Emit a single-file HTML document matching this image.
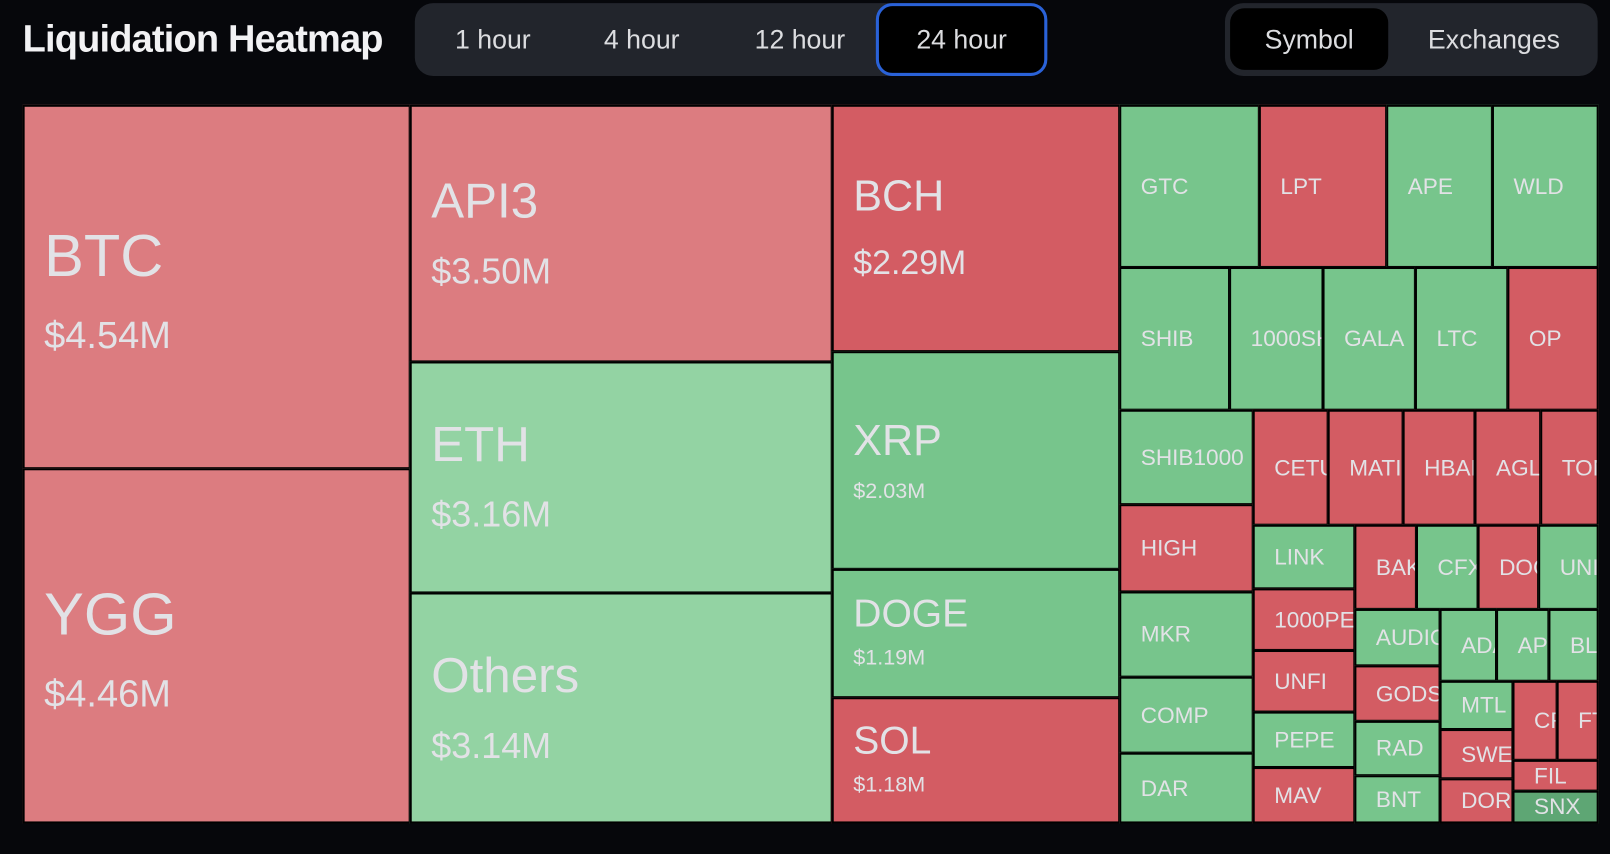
<!DOCTYPE html>
<html><head><meta charset="utf-8"><style>
html,body{margin:0;padding:0;background:#06070b;width:1610px;height:854px;overflow:hidden}
#w{position:absolute;left:0;top:0;width:1568px;height:832px;transform:scale(1.02679);transform-origin:0 0;font-family:"Liberation Sans",sans-serif}
.t{position:absolute;left:22px;top:17px;font-size:37px;font-weight:bold;color:#f2f2f4;letter-spacing:-0.8px}
.g{position:absolute;background:#22252c;border-radius:18px}
.b{position:absolute;color:#dcdde0;font-size:26px;text-align:center;line-height:60px}
.a{background:#000;border-radius:14px}
.c{position:absolute;box-sizing:border-box;border:2px solid #000;display:flex;flex-direction:column;justify-content:center;padding-left:19px;white-space:nowrap;overflow:hidden;color:#e2e2e6;font-size:22px}
.r{background:#d35c63}.gr{background:#77c58c}.lr{background:#dc7c80}.lg{background:#93d3a3}
.c span{display:block}
</style></head><body><div id="w">
<div class="t">Liquidation Heatmap</div>
<div class="g" style="left:404px;top:3px;width:616px;height:71px"></div>
<div class="b" style="left:420px;top:8px;width:120px">1 hour</div>
<div class="b" style="left:565px;top:8px;width:120px">4 hour</div>
<div class="b" style="left:715px;top:8px;width:128px">12 hour</div>
<div class="b a" style="left:853px;top:3px;width:161px;height:65px;border:3px solid #2a62d8;line-height:65px;border-radius:16px">24 hour</div>
<div class="g" style="left:1193px;top:3px;width:363px;height:71px"></div>
<div class="b a" style="left:1198px;top:8px;width:154px">Symbol</div>
<div class="b" style="left:1370px;top:8px;width:170px">Exchanges</div>

<div class="c lr" style="left:22px;top:102px;width:378px;height:355px;padding-top:14px"><span style="font-size:58px;line-height:80px">BTC</span><span style="font-size:37px;line-height:74px">$4.54M</span></div>
<div class="c lr" style="left:22px;top:456px;width:378px;height:346px;padding-top:14px"><span style="font-size:58px;line-height:80px">YGG</span><span style="font-size:37px;line-height:74px">$4.46M</span></div>
<div class="c lr" style="left:399px;top:102px;width:412px;height:251px;padding-top:8px"><span style="font-size:48px;line-height:66px">API3</span><span style="font-size:35px;line-height:70px">$3.50M</span></div>
<div class="c lg" style="left:399px;top:352px;width:412px;height:226px;padding-top:8px"><span style="font-size:48px;line-height:66px">ETH</span><span style="font-size:35px;line-height:70px">$3.16M</span></div>
<div class="c lg" style="left:399px;top:577px;width:412px;height:225px;padding-top:8px"><span style="font-size:48px;line-height:66px">Others</span><span style="font-size:35px;line-height:70px">$3.14M</span></div>
<div class="c r" style="left:810px;top:102px;width:281px;height:241px;padding-top:6px"><span style="font-size:42px;line-height:60px">BCH</span><span style="font-size:33px;line-height:70px">$2.29M</span></div>
<div class="c gr" style="left:810px;top:342px;width:281px;height:213px;padding-top:4px"><span style="font-size:42px;line-height:56px">XRP</span><span style="font-size:21px;line-height:44px">$2.03M</span></div>
<div class="c gr" style="left:810px;top:554px;width:281px;height:126px"><span style="font-size:38px;line-height:48px">DOGE</span><span style="font-size:21px;line-height:38px">$1.19M</span></div>
<div class="c r" style="left:810px;top:679px;width:281px;height:123px"><span style="font-size:38px;line-height:48px">SOL</span><span style="font-size:21px;line-height:38px">$1.18M</span></div>

<div class="c gr" style="left:1090px;top:102px;width:137px;height:159px">GTC</div>
<div class="c r" style="left:1226px;top:102px;width:125px;height:159px">LPT</div>
<div class="c gr" style="left:1350px;top:102px;width:104px;height:159px">APE</div>
<div class="c gr" style="left:1453px;top:102px;width:104px;height:159px">WLD</div>
<div class="c gr" style="left:1090px;top:260px;width:108px;height:140px">SHIB</div>
<div class="c gr" style="left:1197px;top:260px;width:92px;height:140px">1000SHIB</div>
<div class="c gr" style="left:1288px;top:260px;width:91px;height:140px">GALA</div>
<div class="c gr" style="left:1378px;top:260px;width:91px;height:140px">LTC</div>
<div class="c r" style="left:1468px;top:260px;width:89px;height:140px">OP</div>
<div class="c gr" style="left:1090px;top:399px;width:131px;height:93px">SHIB1000</div>
<div class="c r" style="left:1090px;top:491px;width:131px;height:86px">HIGH</div>
<div class="c gr" style="left:1090px;top:576px;width:131px;height:84px">MKR</div>
<div class="c gr" style="left:1090px;top:659px;width:131px;height:75px">COMP</div>
<div class="c gr" style="left:1090px;top:733px;width:131px;height:69px">DAR</div>
<div class="c r" style="left:1220px;top:399px;width:74px;height:113px">CETUS</div>
<div class="c r" style="left:1293px;top:399px;width:74px;height:113px">MATIC</div>
<div class="c r" style="left:1366px;top:399px;width:71px;height:113px">HBAR</div>
<div class="c r" style="left:1436px;top:399px;width:65px;height:113px">AGLD</div>
<div class="c r" style="left:1500px;top:399px;width:57px;height:113px">TON</div>
<div class="c gr" style="left:1220px;top:511px;width:100px;height:63px">LINK</div>
<div class="c r" style="left:1220px;top:573px;width:100px;height:61px">1000PEPE</div>
<div class="c r" style="left:1220px;top:633px;width:100px;height:61px">UNFI</div>
<div class="c gr" style="left:1220px;top:693px;width:100px;height:55px">PEPE</div>
<div class="c r" style="left:1220px;top:747px;width:100px;height:55px">MAV</div>
<div class="c r" style="left:1319px;top:511px;width:61px;height:83px">BAKE</div>
<div class="c gr" style="left:1379px;top:511px;width:61px;height:83px">CFX</div>
<div class="c r" style="left:1439px;top:511px;width:60px;height:83px">DOGS</div>
<div class="c gr" style="left:1498px;top:511px;width:59px;height:83px">UNI</div>
<div class="c gr" style="left:1319px;top:593px;width:84px;height:56px">AUDIO</div>
<div class="c r" style="left:1319px;top:648px;width:84px;height:55px">GODS</div>
<div class="c gr" style="left:1319px;top:702px;width:84px;height:54px">RAD</div>
<div class="c gr" style="left:1319px;top:755px;width:84px;height:47px">BNT</div>
<div class="c gr" style="left:1402px;top:593px;width:56px;height:71px">ADA</div>
<div class="c gr" style="left:1457px;top:593px;width:52px;height:71px">APT</div>
<div class="c gr" style="left:1508px;top:593px;width:49px;height:71px">BLUR</div>
<div class="c gr" style="left:1402px;top:663px;width:72px;height:48px">MTL</div>
<div class="c r" style="left:1402px;top:710px;width:72px;height:49px">SWEAT</div>
<div class="c r" style="left:1402px;top:758px;width:72px;height:44px">DORA</div>
<div class="c r" style="left:1473px;top:663px;width:44px;height:78px">CRV</div>
<div class="c r" style="left:1516px;top:663px;width:41px;height:78px">FTM</div>
<div class="c r" style="left:1473px;top:740px;width:84px;height:31px">FIL</div>
<div class="c" style="background:#5ea674;left:1473px;top:770px;width:84px;height:32px">SNX</div>
</div></body></html>
